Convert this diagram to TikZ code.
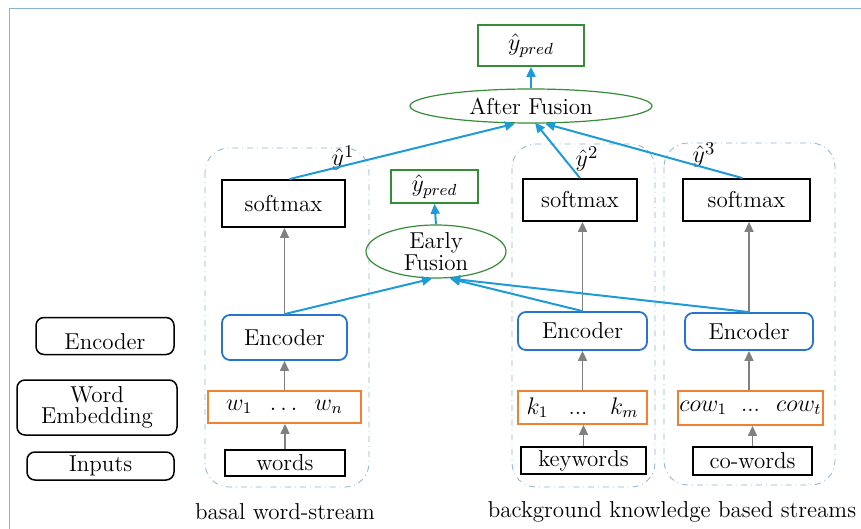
\documentclass[tikz,border=0pt]{standalone}
\usetikzlibrary{arrows.meta,shapes.geometric,calc}

\definecolor{arrblue}{RGB}{30,155,215}
\definecolor{encblue}{RGB}{40,115,205}
\definecolor{emborange}{RGB}{242,128,50}
\definecolor{fusgreen}{RGB}{55,140,55}
\definecolor{grouplin}{RGB}{140,178,210}
\definecolor{arrgray}{RGB}{128,128,128}

\begin{document}
\begin{tikzpicture}[x=0.5pt,y=-0.5pt,
  font=\fontsize{11.5}{12.5}\selectfont,
  legend/.style={draw,rounded corners=4pt,line width=0.75pt,inner sep=0pt,align=center},
  softbox/.style={draw,line width=0.9pt,inner sep=0pt},
  encbox/.style={draw=encblue,rounded corners=4pt,line width=0.9pt,inner sep=0pt},
  embbox/.style={draw=emborange,line width=0.9pt,inner sep=0pt},
  inbox/.style={draw,line width=0.9pt,inner sep=0pt},
  fusion/.style={ellipse,draw=fusgreen,line width=0.6pt,inner xsep=0pt,inner ysep=-3pt,align=center},
  predbox/.style={draw=fusgreen,line width=0.9pt,inner sep=0pt},
  stream/.style={draw=grouplin,dash dot,line width=0.4pt,rounded corners=12pt},
  ylabel/.style={inner sep=0pt,font=\fontsize{12.5}{13}\selectfont},
  uparr/.style={-{Triangle[length=5pt,width=4.5pt]},draw=arrgray,line width=0.8pt},
  fusarr/.style={-{Triangle[length=5pt,width=4.5pt]},draw=arrblue,line width=1pt}]
\useasboundingbox (0,0) rectangle (861,529);
\draw[grouplin,line width=0.5pt] (9,529) -- (9,9) -- (861,9);

% stream frames
\draw[stream] (205,148) rectangle (369,487);
\draw[stream] (512,144) rectangle (655,487);
\draw[stream] (664,143) rectangle (835,485);

% legend
\node[legend,minimum width=69pt,minimum height=18.5pt,text height=15pt,text depth=2pt] (legenc) at (105,336) {Encoder};
\node[legend,minimum width=80pt,minimum height=27.5pt,font=\fontsize{11.5}{10.5}\selectfont] (legemb) at (97,407.5) {Word\\Embedding};
\node[legend,minimum width=73.5pt,minimum height=14pt] (legin) at (100.5,466) {Inputs};

% basal word-stream
\node[softbox,minimum width=61.5pt,minimum height=23.5pt] (sm1) at (283.5,203.5) {softmax};
\node[encbox,minimum width=62.5pt,minimum height=22.5pt] (enc1) at (284.5,337.5) {Encoder};
\node[embbox,minimum width=76.5pt,minimum height=16pt] (emb1) at (284.5,407) {$w_1\;\;\ldots\;\;w_n$};
\node[inbox,minimum width=60pt,minimum height=13pt] (in1) at (285,463) {words};

% keyword stream
\node[softbox,minimum width=57pt,minimum height=21pt] (sm2) at (580,200) {softmax};
\node[encbox,minimum width=64.5pt,minimum height=19pt] (enc2) at (582.5,331) {Encoder};
\node[embbox,minimum width=64.5pt,minimum height=16.5pt] (emb2) at (582.5,407.5) {$k_1$\;\; ...\;\; $k_m$};
\node[inbox,minimum width=62.5pt,minimum height=13.5pt] (in2) at (583.5,460.5) {keywords};

% co-word stream
\node[softbox,minimum width=63.5pt,minimum height=21pt] (sm3) at (746.5,200) {softmax};
\node[encbox,minimum width=64pt,minimum height=18.5pt] (enc3) at (749,331.5) {Encoder};
\node[embbox,minimum width=72.5pt,minimum height=17pt] (emb3) at (750.5,408) {$cow_1$\; ...\; $cow_t$};
\node[inbox,minimum width=59.5pt,minimum height=14pt] (in3) at (752.5,461) {co-words};

% fusion
\node[fusion,minimum width=121pt,minimum height=17pt] (after) at (531,106) {After Fusion};
\node[predbox,minimum width=53pt,minimum height=20.5pt] (ypredtop) at (531,45.5) {$\hat{y}_{pred}$};
\node[fusion,minimum width=70pt,minimum height=26.5pt,font=\fontsize{11.5}{8.5}\selectfont] (early) at (436,251.5) {Early\\Fusion};
\node[predbox,minimum width=43.5pt,minimum height=16.5pt] (ypredlow) at (434.5,186.5) {$\hat{y}_{pred}$};

% labels
\node[ylabel] (lab1) at (343,158) {$\hat{y}^1$};
\node[ylabel] (lab2) at (587,159) {$\hat{y}^2$};
\node[ylabel] (lab3) at (704,155) {$\hat{y}^3$};

\node (cap1) at (285,512) {basal word-stream};
\node (cap2) at (672,512) {background knowledge based streams};

% gray flow
\foreach \i in {1,2,3}{
  \draw[uparr] (in\i.north) -- (in\i.north |- emb\i.south);
  \draw[uparr] (enc\i.south |- emb\i.north) -- (enc\i.south);
  \draw[uparr] (enc\i.north) -- (enc\i.north |- sm\i.south);
}

% fusion arrows
\draw[fusarr] ($(sm1.north)+(6,0)$) -- ($(after.south)+(-16,0)$);
\draw[fusarr] (sm2.north) -- ($(after.south)+(4,-1)$);
\draw[fusarr] ($(sm3.north)+(-4,0)$) -- ($(after.south)+(14,0)$);
\draw[fusarr] (after.north) -- (ypredtop.south);
\draw[fusarr] (enc1.north) -- ($(early.south)+(-4,0)$);
\draw[fusarr] (enc2.north) -- ($(early.south)+(14,0)$);
\draw[fusarr] (enc3.north) -- ($(early.south)+(14,0)$);
\draw[fusarr] (early.north) -- (ypredlow.south);
\end{tikzpicture}
\end{document}
